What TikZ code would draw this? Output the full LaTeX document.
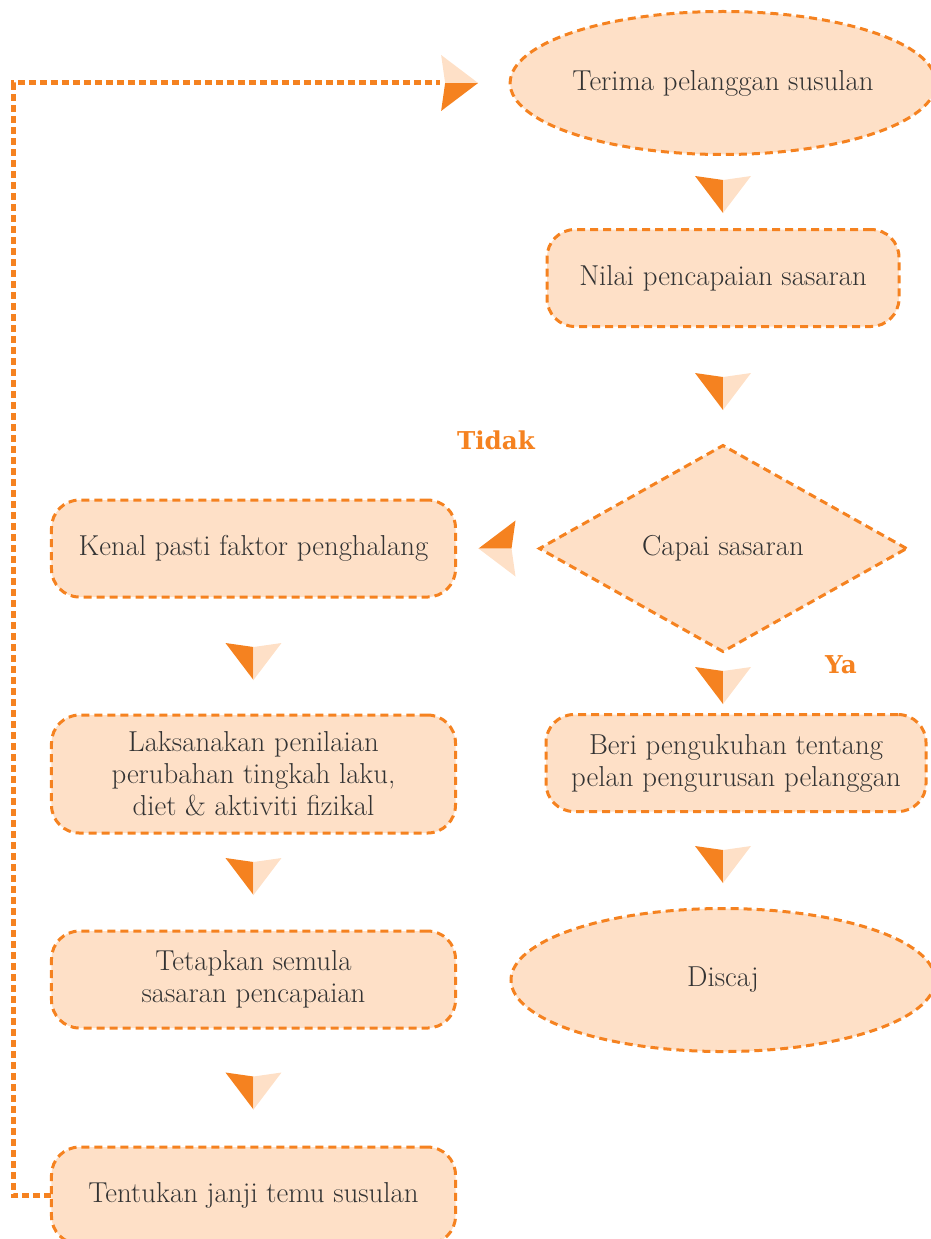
\documentclass[tikz,border=0pt]{standalone}
\usepackage{fontspec}
\newfontfamily\labelfont{DejaVu Serif}
\usetikzlibrary{calc,positioning,shapes.geometric}

\definecolor{flowor}{RGB}{245,130,32}
\definecolor{flowpe}{RGB}{254,224,199}
\definecolor{flowtx}{RGB}{51,51,51}

\tikzset{
    flowarrow/.pic={
        \fill[flowor] (-7mm,4.5mm) -- (0,3.5mm) -- (0,-4.75mm) -- cycle;
        \fill[flowpe] (7mm,4.5mm)  -- (0,3.5mm) -- (0,-4.75mm) -- cycle;
    }
}

\begin{document}
\begin{tikzpicture}[
            x=0.25mm,y=-0.25mm,
            every node/.style={text=flowtx,align=center,font=\fontsize{20.5}{22.8}\selectfont},
            outline/.style={draw=flowor,fill=flowpe,line width=0.75mm,outer sep=0pt,dash pattern=on 2mm off 1.25mm},
            boxnode/.style={outline,rounded corners=7mm,minimum width=101mm,minimum height=24.25mm},
            endnode/.style={outline,ellipse,inner sep=0pt,minimum width=106mm,minimum height=35.75mm},
            testnode/.style={outline,diamond,inner sep=0pt,minimum width=91.75mm,minimum height=51.5mm},
            flowlabel/.style={text=flowor,font=\labelfont\bfseries\fontsize{17.5}{20}\selectfont},
            loopline/.style={flowor,line width=1.25mm,dash pattern=on 1.75mm off 1mm}
        ]
            \useasboundingbox (0,0) rectangle (930,1239);

            % right column
            \node (terima) [endnode] at (723,83) {Terima pelanggan susulan};
            \node (nilai)  [boxnode,minimum width=88mm,below=18.75mm of terima] {Nilai pencapaian sasaran};
            \node (capai)  [testnode,below=29.75mm of nilai] {Capai sasaran};
            \node (beri)   [boxnode,minimum width=95mm,below=15.75mm of capai,xshift=3.25mm]
                           {Beri pengukuhan tentang\\pelan pengurusan pelanggan};
            \node (discaj) [endnode,below=24.25mm of beri,xshift=-3.25mm] {Discaj};

            % left column
            \node (kenal)   [boxnode,left=21mm of capai] {Kenal pasti faktor penghalang};
            \node (laksana) [boxnode,minimum height=29.5mm,below=29.5mm of kenal]
                            {Laksanakan penilaian\\perubahan tingkah laku,\\diet \& aktiviti fizikal};
            \node (tetap)   [boxnode,below=24.5mm of laksana] {Tetapkan semula\\sasaran pencapaian};
            \node (tentu)   [boxnode,below=29.75mm of tetap] {Tentukan janji temu susulan};

            \node (tidak) [flowlabel] at (496,440) {Tidak};
            \node (ya)    [flowlabel] at (841,665) {Ya};

            % arrows
            \pic at ($(terima.south)!0.5!(nilai.north)+(0,2)$) {flowarrow};
            \pic at ($(nilai.south)!0.5!(capai.north)+(0,5)$) {flowarrow};
            \pic at ($(capai.south)!0.5!(capai.south|-beri.north)+(0,2)$) {flowarrow};
            \pic at ($(beri.south-|discaj.north)!0.5!(discaj.north)+(0,4)$) {flowarrow};
            \pic [rotate=-90] at ($(capai.west)!0.5!(kenal.east)$) {flowarrow};
            \pic at ($(kenal.south)!0.5!(laksana.north)+(0,5)$) {flowarrow};
            \pic at ($(laksana.south)!0.5!(tetap.north)+(0,-6)$) {flowarrow};
            \pic at ($(tetap.south)!0.5!(tentu.north)+(0,3)$) {flowarrow};

            % loop back
            \coordinate (back) at ($(terima.west)+(-70,0)$);
            \pic [rotate=90] at ($(back)+(19,0)$) {flowarrow};
            \draw [loopline] (tentu.west) -- ++(-38,0) |- (back);
        \end{tikzpicture}
\end{document}
